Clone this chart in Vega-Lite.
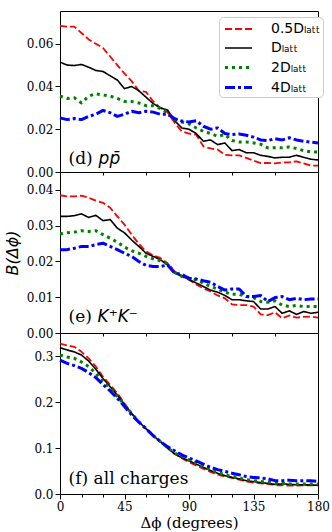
{
  "$schema": "https://vega.github.io/schema/vega-lite/v6.json",
  "padding": {"left": 3, "top": 10, "right": 5, "bottom": 5},
  "spacing": 0,
  "bounds": "flush",
  "config": {
    "view": {"stroke": "#000000", "strokeWidth": 1},
    "axis": {"labelFont": "DejaVu Serif", "labelFontSize": 12, "labelColor": "#000000", "tickColor": "#000000", "domain": false, "grid": false, "labelPadding": 2, "tickSize": 5, "labelOverlap": false, "labelFlush": false, "titleColor": "#000000", "titleFontWeight": "normal"}
  },
  "resolve": {
    "scale": {"y": "independent", "color": "independent", "strokeDash": "independent", "strokeWidth": "independent"},
    "legend": {"color": "independent", "strokeDash": "independent", "strokeWidth": "independent"}
  },
  "datasets": {
    "d": [
      {"x": 0, "r": 0.0683, "k": 0.0514, "g": 0.0355, "b": 0.0253},
      {"x": 5, "r": 0.0680, "k": 0.0500, "g": 0.0344, "b": 0.0245},
      {"x": 10, "r": 0.0680, "k": 0.0498, "g": 0.0347, "b": 0.0250},
      {"x": 15, "r": 0.0650, "k": 0.0503, "g": 0.0323, "b": 0.0245},
      {"x": 20, "r": 0.0620, "k": 0.0490, "g": 0.0355, "b": 0.0260},
      {"x": 25, "r": 0.0600, "k": 0.0475, "g": 0.0366, "b": 0.0270},
      {"x": 30, "r": 0.0580, "k": 0.0470, "g": 0.0360, "b": 0.0288},
      {"x": 35, "r": 0.0540, "k": 0.0450, "g": 0.0355, "b": 0.0277},
      {"x": 40, "r": 0.0500, "k": 0.0430, "g": 0.0344, "b": 0.0260},
      {"x": 45, "r": 0.0460, "k": 0.0390, "g": 0.0330, "b": 0.0270},
      {"x": 50, "r": 0.0425, "k": 0.0400, "g": 0.0330, "b": 0.0284},
      {"x": 55, "r": 0.0380, "k": 0.0380, "g": 0.0323, "b": 0.0277},
      {"x": 60, "r": 0.0375, "k": 0.0350, "g": 0.0310, "b": 0.0284},
      {"x": 65, "r": 0.0330, "k": 0.0320, "g": 0.0310, "b": 0.0280},
      {"x": 70, "r": 0.0300, "k": 0.0300, "g": 0.0297, "b": 0.0270},
      {"x": 75, "r": 0.0280, "k": 0.0290, "g": 0.0277, "b": 0.0270},
      {"x": 80, "r": 0.0230, "k": 0.0240, "g": 0.0245, "b": 0.0250},
      {"x": 85, "r": 0.0190, "k": 0.0206, "g": 0.0234, "b": 0.0238},
      {"x": 90, "r": 0.0180, "k": 0.0200, "g": 0.0225, "b": 0.0234},
      {"x": 95, "r": 0.0175, "k": 0.0180, "g": 0.0206, "b": 0.0240},
      {"x": 100, "r": 0.0120, "k": 0.0144, "g": 0.0190, "b": 0.0214},
      {"x": 105, "r": 0.0110, "k": 0.0150, "g": 0.0180, "b": 0.0200},
      {"x": 110, "r": 0.0105, "k": 0.0128, "g": 0.0167, "b": 0.0206},
      {"x": 115, "r": 0.0080, "k": 0.0136, "g": 0.0175, "b": 0.0180},
      {"x": 120, "r": 0.0078, "k": 0.0100, "g": 0.0147, "b": 0.0175},
      {"x": 125, "r": 0.0078, "k": 0.0105, "g": 0.0140, "b": 0.0178},
      {"x": 130, "r": 0.0066, "k": 0.0090, "g": 0.0140, "b": 0.0172},
      {"x": 135, "r": 0.0053, "k": 0.0090, "g": 0.0136, "b": 0.0163},
      {"x": 140, "r": 0.0042, "k": 0.0078, "g": 0.0130, "b": 0.0150},
      {"x": 145, "r": 0.0042, "k": 0.0073, "g": 0.0113, "b": 0.0147},
      {"x": 150, "r": 0.0040, "k": 0.0066, "g": 0.0113, "b": 0.0156},
      {"x": 155, "r": 0.0045, "k": 0.0069, "g": 0.0113, "b": 0.0150},
      {"x": 160, "r": 0.0045, "k": 0.0069, "g": 0.0117, "b": 0.0160},
      {"x": 165, "r": 0.0050, "k": 0.0078, "g": 0.0110, "b": 0.0150},
      {"x": 170, "r": 0.0040, "k": 0.0069, "g": 0.0100, "b": 0.0144},
      {"x": 175, "r": 0.0030, "k": 0.0060, "g": 0.0094, "b": 0.0140},
      {"x": 180, "r": 0.0030, "k": 0.0056, "g": 0.0094, "b": 0.0136}
    ],
    "e": [
      {"x": 0, "r": 0.0385, "k": 0.0326, "g": 0.0277, "b": 0.0233},
      {"x": 5, "r": 0.0382, "k": 0.0326, "g": 0.0280, "b": 0.0233},
      {"x": 10, "r": 0.0382, "k": 0.0328, "g": 0.0282, "b": 0.0237},
      {"x": 15, "r": 0.0384, "k": 0.0333, "g": 0.0286, "b": 0.0242},
      {"x": 20, "r": 0.0378, "k": 0.0323, "g": 0.0284, "b": 0.0242},
      {"x": 25, "r": 0.0370, "k": 0.0329, "g": 0.0286, "b": 0.0247},
      {"x": 30, "r": 0.0364, "k": 0.0314, "g": 0.0275, "b": 0.0251},
      {"x": 35, "r": 0.0350, "k": 0.0317, "g": 0.0265, "b": 0.0242},
      {"x": 40, "r": 0.0326, "k": 0.0293, "g": 0.0254, "b": 0.0233},
      {"x": 45, "r": 0.0303, "k": 0.0280, "g": 0.0240, "b": 0.0223},
      {"x": 50, "r": 0.0275, "k": 0.0260, "g": 0.0230, "b": 0.0214},
      {"x": 55, "r": 0.0249, "k": 0.0242, "g": 0.0223, "b": 0.0200},
      {"x": 60, "r": 0.0228, "k": 0.0223, "g": 0.0214, "b": 0.0189},
      {"x": 65, "r": 0.0217, "k": 0.0214, "g": 0.0207, "b": 0.0186},
      {"x": 70, "r": 0.0210, "k": 0.0205, "g": 0.0202, "b": 0.0186},
      {"x": 75, "r": 0.0195, "k": 0.0190, "g": 0.0193, "b": 0.0190},
      {"x": 80, "r": 0.0172, "k": 0.0167, "g": 0.0170, "b": 0.0167},
      {"x": 85, "r": 0.0158, "k": 0.0160, "g": 0.0158, "b": 0.0164},
      {"x": 90, "r": 0.0149, "k": 0.0149, "g": 0.0153, "b": 0.0153},
      {"x": 95, "r": 0.0136, "k": 0.0140, "g": 0.0149, "b": 0.0151},
      {"x": 100, "r": 0.0125, "k": 0.0130, "g": 0.0139, "b": 0.0146},
      {"x": 105, "r": 0.0116, "k": 0.0120, "g": 0.0130, "b": 0.0142},
      {"x": 110, "r": 0.0105, "k": 0.0114, "g": 0.0123, "b": 0.0130},
      {"x": 115, "r": 0.0097, "k": 0.0105, "g": 0.0114, "b": 0.0120},
      {"x": 120, "r": 0.0080, "k": 0.0093, "g": 0.0108, "b": 0.0123},
      {"x": 125, "r": 0.0078, "k": 0.0093, "g": 0.0108, "b": 0.0123},
      {"x": 130, "r": 0.0078, "k": 0.0090, "g": 0.0102, "b": 0.0102},
      {"x": 135, "r": 0.0074, "k": 0.0088, "g": 0.0099, "b": 0.0102},
      {"x": 140, "r": 0.0052, "k": 0.0067, "g": 0.0088, "b": 0.0105},
      {"x": 145, "r": 0.0050, "k": 0.0067, "g": 0.0086, "b": 0.0088},
      {"x": 150, "r": 0.0058, "k": 0.0074, "g": 0.0090, "b": 0.0099},
      {"x": 155, "r": 0.0041, "k": 0.0055, "g": 0.0078, "b": 0.0102},
      {"x": 160, "r": 0.0049, "k": 0.0062, "g": 0.0074, "b": 0.0093},
      {"x": 165, "r": 0.0043, "k": 0.0052, "g": 0.0077, "b": 0.0097},
      {"x": 170, "r": 0.0045, "k": 0.0060, "g": 0.0074, "b": 0.0093},
      {"x": 175, "r": 0.0046, "k": 0.0055, "g": 0.0074, "b": 0.0095},
      {"x": 180, "r": 0.0043, "k": 0.0058, "g": 0.0074, "b": 0.0095}
    ],
    "f": [
      {"x": 0, "r": 0.327, "k": 0.318, "g": 0.302, "b": 0.291},
      {"x": 5, "r": 0.323, "k": 0.313, "g": 0.298, "b": 0.284},
      {"x": 10, "r": 0.320, "k": 0.309, "g": 0.295, "b": 0.279},
      {"x": 15, "r": 0.309, "k": 0.302, "g": 0.287, "b": 0.273},
      {"x": 20, "r": 0.295, "k": 0.289, "g": 0.277, "b": 0.264},
      {"x": 25, "r": 0.277, "k": 0.271, "g": 0.262, "b": 0.253},
      {"x": 30, "r": 0.255, "k": 0.251, "g": 0.245, "b": 0.238},
      {"x": 35, "r": 0.237, "k": 0.233, "g": 0.230, "b": 0.224},
      {"x": 40, "r": 0.219, "k": 0.215, "g": 0.212, "b": 0.208},
      {"x": 45, "r": 0.197, "k": 0.195, "g": 0.194, "b": 0.190},
      {"x": 50, "r": 0.175, "k": 0.175, "g": 0.175, "b": 0.172},
      {"x": 55, "r": 0.157, "k": 0.157, "g": 0.157, "b": 0.156},
      {"x": 60, "r": 0.142, "k": 0.142, "g": 0.142, "b": 0.142},
      {"x": 65, "r": 0.127, "k": 0.127, "g": 0.127, "b": 0.127},
      {"x": 70, "r": 0.114, "k": 0.114, "g": 0.114, "b": 0.114},
      {"x": 75, "r": 0.100, "k": 0.100, "g": 0.101, "b": 0.103},
      {"x": 80, "r": 0.087, "k": 0.087, "g": 0.089, "b": 0.094},
      {"x": 85, "r": 0.078, "k": 0.079, "g": 0.082, "b": 0.085},
      {"x": 90, "r": 0.069, "k": 0.072, "g": 0.074, "b": 0.078},
      {"x": 95, "r": 0.062, "k": 0.065, "g": 0.067, "b": 0.072},
      {"x": 100, "r": 0.055, "k": 0.058, "g": 0.060, "b": 0.065},
      {"x": 105, "r": 0.048, "k": 0.051, "g": 0.053, "b": 0.058},
      {"x": 110, "r": 0.042, "k": 0.045, "g": 0.047, "b": 0.053},
      {"x": 115, "r": 0.038, "k": 0.040, "g": 0.042, "b": 0.049},
      {"x": 120, "r": 0.035, "k": 0.036, "g": 0.038, "b": 0.045},
      {"x": 125, "r": 0.031, "k": 0.033, "g": 0.035, "b": 0.042},
      {"x": 130, "r": 0.027, "k": 0.029, "g": 0.031, "b": 0.038},
      {"x": 135, "r": 0.025, "k": 0.027, "g": 0.029, "b": 0.036},
      {"x": 140, "r": 0.023, "k": 0.025, "g": 0.027, "b": 0.035},
      {"x": 145, "r": 0.022, "k": 0.023, "g": 0.026, "b": 0.033},
      {"x": 150, "r": 0.019, "k": 0.021, "g": 0.024, "b": 0.029},
      {"x": 155, "r": 0.019, "k": 0.022, "g": 0.023, "b": 0.029},
      {"x": 160, "r": 0.018, "k": 0.021, "g": 0.022, "b": 0.030},
      {"x": 165, "r": 0.018, "k": 0.020, "g": 0.022, "b": 0.029},
      {"x": 170, "r": 0.019, "k": 0.020, "g": 0.022, "b": 0.029},
      {"x": 175, "r": 0.019, "k": 0.0195, "g": 0.022, "b": 0.029},
      {"x": 180, "r": 0.019, "k": 0.019, "g": 0.022, "b": 0.027}
    ]
  },
  "vconcat": [
    {
      "width": 258, "height": 161,
      "layer": [
        {
          "data": {"name": "d"},
          "transform": [{"fold": ["r", "k", "g", "b"], "as": ["s", "v"]}],
          "mark": {"type": "line", "strokeCap": "butt", "strokeJoin": "round"},
          "encoding": {
            "x": {"field": "x", "type": "quantitative", "scale": {"domain": [0, 180], "nice": false},
              "axis": {"values": [0, 15, 30, 45, 60, 75, 90, 105, 120, 135, 150, 165, 180], "labels": false, "title": null,
                "tickSize": {"condition": {"test": "datum.value % 45 === 0", "value": 5}, "value": 3}}},
            "y": {"field": "v", "type": "quantitative", "scale": {"domain": [0, 0.0753], "nice": false, "zero": false},
              "axis": {"values": [0, 0.01, 0.02, 0.03, 0.04, 0.05, 0.06, 0.07], "title": null, "labelOverlap": false,
                "labelExpr": "abs(datum.value*50 - round(datum.value*50)) < 0.001 ? format(datum.value, '.2f') : ''",
                "tickSize": {"condition": {"test": "abs(datum.value*50 - round(datum.value*50)) < 0.001", "value": 5}, "value": 3}}},
            "color": {"field": "s", "type": "nominal",
              "scale": {"domain": ["r", "k", "g", "b"], "range": ["#ff0000", "#000000", "#008000", "#0000ff"]},
              "legend": {"orient": "none", "legendX": 159, "legendY": 6, "title": null, "fillColor": "#ffffff", "strokeColor": "#cccccc", "cornerRadius": 4, "padding": 2,
                "symbolType": "M-1.5,0L1.5,0", "symbolSize": 324, "symbolOffset": 7, "rowPadding": 2, "labelOffset": 22,
                "labelFont": "DejaVu Sans", "labelFontSize": 14, "labelColor": "#000000",
                "labelExpr": "{'r': '0.5Dₗₐₜₜ', 'k': 'Dₗₐₜₜ', 'g': '2Dₗₐₜₜ', 'b': '4Dₗₐₜₜ'}[datum.value]"}},
            "strokeDash": {"field": "s", "type": "nominal",
              "scale": {"domain": ["r", "k", "g", "b"], "range": [[7, 3], [1, 0], [3, 4], [10, 3, 3, 3]]}},
            "strokeWidth": {"field": "s", "type": "nominal",
              "scale": {"type": "ordinal", "domain": ["r", "k", "g", "b"], "range": [1.8, 1.6, 3, 3]}}
          }
        },
        {
          "data": {"values": [{}]},
          "mark": {"type": "text", "text": "(d)", "font": "DejaVu Serif", "fontSize": 17, "align": "left", "baseline": "alphabetic", "color": "#000000"},
          "encoding": {"x": {"datum": 6}, "y": {"datum": 0.0037}}
        },
        {
          "data": {"values": [{}]},
          "mark": {"type": "text", "text": "pp̄", "font": "DejaVu Sans", "fontStyle": "italic", "fontSize": 17, "align": "left", "baseline": "alphabetic", "dx": 30, "color": "#000000"},
          "encoding": {"x": {"datum": 6}, "y": {"datum": 0.0037}}
        }
      ]
    },
    {
      "width": 258, "height": 161,
      "layer": [
        {
          "data": {"name": "e"},
          "transform": [{"fold": ["r", "k", "g", "b"], "as": ["s", "v"]}],
          "mark": {"type": "line", "strokeCap": "butt", "strokeJoin": "round"},
          "encoding": {
            "x": {"field": "x", "type": "quantitative", "scale": {"domain": [0, 180], "nice": false},
              "axis": {"values": [0, 15, 30, 45, 60, 75, 90, 105, 120, 135, 150, 165, 180], "labels": false, "title": null,
                "tickSize": {"condition": {"test": "datum.value % 45 === 0", "value": 5}, "value": 3}}},
            "y": {"field": "v", "type": "quantitative", "scale": {"domain": [0, 0.045], "nice": false, "zero": false},
              "axis": {"values": [0, 0.005, 0.01, 0.015, 0.02, 0.025, 0.03, 0.035, 0.04], "title": "B(Δϕ)", "labelOverlap": false,
                "titleFont": "DejaVu Sans", "titleFontStyle": "italic", "titleFontSize": 16, "titlePadding": 6,
                "labelExpr": "abs(datum.value*100 - round(datum.value*100)) < 0.001 ? format(datum.value, '.2f') : ''",
                "tickSize": {"condition": {"test": "abs(datum.value*100 - round(datum.value*100)) < 0.001", "value": 5}, "value": 3}}},
            "color": {"field": "s", "type": "nominal",
              "scale": {"domain": ["r", "k", "g", "b"], "range": ["#ff0000", "#000000", "#008000", "#0000ff"]}, "legend": null},
            "strokeDash": {"field": "s", "type": "nominal",
              "scale": {"domain": ["r", "k", "g", "b"], "range": [[7, 3], [1, 0], [3, 4], [10, 3, 3, 3]]}, "legend": null},
            "strokeWidth": {"field": "s", "type": "nominal",
              "scale": {"type": "ordinal", "domain": ["r", "k", "g", "b"], "range": [1.8, 1.6, 3, 3]}, "legend": null}
          }
        },
        {
          "data": {"values": [{}]},
          "mark": {"type": "text", "text": "(e)", "font": "DejaVu Serif", "fontSize": 17, "align": "left", "baseline": "alphabetic", "color": "#000000"},
          "encoding": {"x": {"datum": 6}, "y": {"datum": 0.0032}}
        },
        {
          "data": {"values": [{}]},
          "mark": {"type": "text", "text": "K⁺K⁻", "font": "DejaVu Sans", "fontStyle": "italic", "fontSize": 17, "align": "left", "baseline": "alphabetic", "dx": 29, "color": "#000000"},
          "encoding": {"x": {"datum": 6}, "y": {"datum": 0.0032}}
        }
      ]
    },
    {
      "width": 258, "height": 161,
      "resolve": {"axis": {"x": "independent"}},
      "layer": [
        {
          "data": {"name": "f"},
          "transform": [{"fold": ["r", "k", "g", "b"], "as": ["s", "v"]}],
          "mark": {"type": "line", "strokeCap": "butt", "strokeJoin": "round"},
          "encoding": {
            "x": {"field": "x", "type": "quantitative", "scale": {"domain": [0, 180], "nice": false},
              "axis": {"values": [0, 45, 90, 135, 180], "orient": "bottom", "title": "Δϕ (degrees)", "labelOverlap": false,
                "titleFont": "DejaVu Serif", "titleFontSize": 15, "titlePadding": 3, "tickSize": 5}},
            "y": {"field": "v", "type": "quantitative", "scale": {"domain": [0, 0.35], "nice": false, "zero": false},
              "axis": {"values": [0, 0.05, 0.1, 0.15, 0.2, 0.25, 0.3], "title": null, "labelOverlap": false,
                "labelExpr": "abs(datum.value*10 - round(datum.value*10)) < 0.001 ? format(datum.value, '.1f') : ''",
                "tickSize": {"condition": {"test": "abs(datum.value*10 - round(datum.value*10)) < 0.001", "value": 5}, "value": 3}}},
            "color": {"field": "s", "type": "nominal",
              "scale": {"domain": ["r", "k", "g", "b"], "range": ["#ff0000", "#000000", "#008000", "#0000ff"]}, "legend": null},
            "strokeDash": {"field": "s", "type": "nominal",
              "scale": {"domain": ["r", "k", "g", "b"], "range": [[7, 3], [1, 0], [3, 4], [10, 3, 3, 3]]}, "legend": null},
            "strokeWidth": {"field": "s", "type": "nominal",
              "scale": {"type": "ordinal", "domain": ["r", "k", "g", "b"], "range": [1.8, 1.6, 3, 3]}, "legend": null}
          }
        },
        {
          "data": {"values": [{}]},
          "mark": {"type": "text", "text": "(f) all charges", "font": "DejaVu Serif", "fontSize": 17, "align": "left", "baseline": "alphabetic", "color": "#000000"},
          "encoding": {
            "x": {"datum": 6, "type": "quantitative",
              "axis": {"values": [15, 30, 60, 75, 105, 120, 150, 165], "orient": "bottom", "labels": false, "title": null, "tickSize": 3}},
            "y": {"datum": 0.0217, "type": "quantitative"}
          }
        }
      ]
    }
  ]
}
